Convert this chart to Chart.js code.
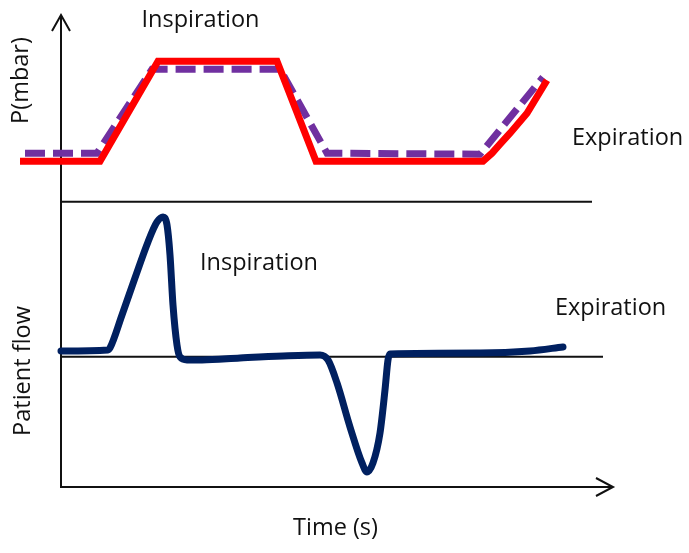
<!DOCTYPE html>
<html>
<head>
<meta charset="utf-8">
<script src="https://cdn.jsdelivr.net/npm/chart.js@4"></script>
<style>
  html, body { margin: 0; padding: 0; background: #fff; }
  #wrap { width: 689px; height: 553px; }
</style>
</head>
<body>
<div id="wrap"><canvas id="chart" width="689" height="553"></canvas></div>
<script>
// --- data (time in s, pressure in mbar, flow in L/min) ---
const setTime = [-0.82, 0.78, 1.94, 4.32, 5.10, 8.44, 8.62, 8.78, 8.98, 9.32, 9.72];
const setPressure = [8.1, 8.1, 28.1, 28.1, 8.1, 8.1, 9.7, 11.5, 13.7, 17.7, 24.3];

const measTime = [-0.72, 0.72, 1.82, 4.38, 5.32, 8.38, 9.64];
const measPressure = [9.7, 9.7, 26.5, 26.5, 9.7, 9.5, 24.9];

const flowTime = [0, 0.94, 0.98, 1.22, 1.48, 1.74, 1.92, 2.04, 2.12, 2.18, 2.24, 2.32, 2.38, 2.52, 2.82,
                  3.58, 4.44, 5.18, 5.34, 5.52, 5.78, 6.02, 6.12, 6.24, 6.38, 6.48, 6.54, 6.58, 8.38, 9.38, 10.04];
const flowValue = [2.3, 2.7, 3.5, 16.7, 31.5, 45.9, 53.9, 55.9, 52.7, 40.7, 20.7, 4.7, -0.1, -1.3, -1.3,
                   -0.5, 0.3, 0.7, -1.3, -10.5, -28.1, -42.5, -46.1, -42.5, -30.5, -13.3, -1.3, 1.1, 1.5, 2.3, 3.9];

// baselines of the two panels
const pressureBaseEnd = 10.62;
const flowBaseEnd = 10.84;

const toPoints = (xs, ys) => xs.map((x, i) => ({ x: x, y: ys[i] }));

// --- text labels, anchored in data units ---
const labels = [
    { text: 'Inspiration', x: 2.79, y: 34.94, axis: 'yP', align: 'center' },
    { text: 'Expiration', x: 10.22, y: 11.34, axis: 'yP', align: 'left' },
    { text: 'Inspiration', x: 2.78, y: 34.68, axis: 'yF', align: 'left' },
    { text: 'Expiration', x: 9.88, y: 16.68, axis: 'yF', align: 'left' },
    { text: 'Time (s)', x: 5.49, y: -71.3, axis: 'yF', align: 'center' },
    { text: 'P(mbar)', x: -0.66, y: 24.24, axis: 'yP', align: 'center', rotate: true },
    { text: 'Patient flow', x: -0.62, y: -5.72, axis: 'yF', align: 'center', rotate: true }
];

const FONT = '23.5px "Open Sans", "Noto Sans", sans-serif';

const axesPlugin = {
    id: 'axesPlugin',
    beforeDatasetsDraw(chart) {
        const ctx = chart.ctx;
        const xs = chart.scales.x;
        const yf = chart.scales.yF;
        const x0 = xs.getPixelForValue(0);
        const yBottom = yf.getPixelForValue(-52.12);
        const yTop = yf.getPixelForValue(136.7);
        const xEnd = xs.getPixelForValue(11.04);

        ctx.save();
        ctx.strokeStyle = '#111';
        ctx.lineWidth = 2;
        ctx.lineJoin = 'miter';
        ctx.beginPath();
        ctx.moveTo(x0, yTop);
        ctx.lineTo(x0, yBottom);
        ctx.lineTo(xEnd, yBottom);
        ctx.stroke();

        // arrow heads
        ctx.beginPath();
        ctx.moveTo(x0 - 9, yTop + 16);
        ctx.lineTo(x0, yTop);
        ctx.lineTo(x0 + 9, yTop + 16);
        ctx.moveTo(xEnd - 17, yBottom - 9);
        ctx.lineTo(xEnd, yBottom);
        ctx.lineTo(xEnd - 17, yBottom + 9);
        ctx.stroke();
        ctx.restore();
    },
    afterDraw(chart) {
        const ctx = chart.ctx;
        const xs = chart.scales.x;
        ctx.save();
        ctx.font = FONT;
        ctx.fillStyle = '#111';
        ctx.textBaseline = 'alphabetic';
        labels.forEach(l => {
            const px = xs.getPixelForValue(l.x);
            const py = chart.scales[l.axis].getPixelForValue(l.y);
            ctx.textAlign = l.align;
            if (l.rotate) {
                ctx.save();
                ctx.translate(px, py);
                ctx.rotate(-Math.PI / 2);
                ctx.fillText(l.text, 0, 0);
                ctx.restore();
            } else {
                ctx.fillText(l.text, px, py);
            }
        });
        ctx.restore();
    }
};

new Chart(document.getElementById('chart').getContext('2d'), {
    type: 'line',
    data: {
        datasets: [
            {
                label: 'Set pressure',
                data: toPoints(setTime, setPressure),
                yAxisID: 'yP',
                borderColor: '#ff0000',
                borderWidth: 7,
                borderJoinStyle: 'miter',
                borderCapStyle: 'butt',
                tension: 0,
                pointRadius: 0
            },
            {
                label: 'Measured pressure',
                data: toPoints(measTime, measPressure),
                yAxisID: 'yP',
                borderColor: '#7030a0',
                borderWidth: 7,
                borderDash: [20, 8],
                borderCapStyle: 'butt',
                tension: 0,
                pointRadius: 0
            },
            {
                label: 'Patient flow',
                data: toPoints(flowTime, flowValue),
                yAxisID: 'yF',
                borderColor: '#002060',
                borderWidth: 7,
                borderJoinStyle: 'round',
                borderCapStyle: 'round',
                cubicInterpolationMode: 'monotone',
                pointRadius: 0
            },
            {
                label: 'pressure base',
                data: [{ x: 0, y: 0 }, { x: pressureBaseEnd, y: 0 }],
                yAxisID: 'yP',
                borderColor: '#111',
                borderWidth: 2,
                pointRadius: 0
            },
            {
                label: 'flow base',
                data: [{ x: 0, y: 0 }, { x: flowBaseEnd, y: 0 }],
                yAxisID: 'yF',
                borderColor: '#111',
                borderWidth: 2,
                pointRadius: 0
            }
        ]
    },
    options: {
        responsive: false,
        animation: false,
        layout: { padding: { left: 11, right: 75, top: 10, bottom: 66 } },
        plugins: { legend: { display: false }, tooltip: { enabled: false } },
        scales: {
            x: { type: 'linear', min: -1, max: 11.06, display: false },
            yP: { type: 'linear', min: -57.06, max: 38.34, display: false },
            yF: { type: 'linear', min: -52.12, max: 138.68, display: false }
        }
    },
    plugins: [axesPlugin]
});
</script>
</body>
</html>
